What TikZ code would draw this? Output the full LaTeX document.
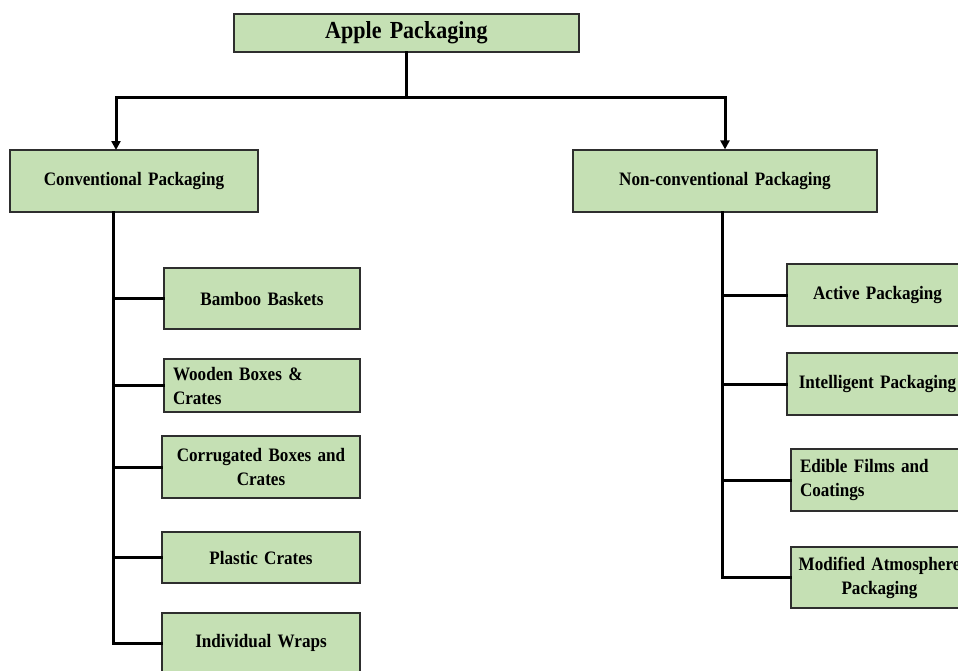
\documentclass[tikz,border=0pt]{standalone}
\usepackage{fontspec}
\setmainfont{Liberation Serif}[FakeStretch=0.9]
\usetikzlibrary{arrows.meta}
\definecolor{boxgreen}{HTML}{C5E0B4}
\definecolor{boxline}{HTML}{2E2E2E}
\tikzset{
  box/.style={draw=boxline, line width=1.2pt, fill=boxgreen, inner xsep=0pt, inner ysep=0pt,
    font=\bfseries\fontsize{19}{24}\selectfont, align=center},
  lbox/.style={box, inner xsep=9pt, align=left},
  conn/.style={line width=3pt, line cap=rect},
  arr/.style={line width=3pt, -{Triangle[length=9pt,width=9pt]}}
}
\begin{document}
\begin{tikzpicture}[x=1pt,y=-1pt]
\useasboundingbox (0,0) rectangle (958,670);

% root and the two families
\node[box, font=\bfseries\fontsize{24.5}{28}\selectfont, minimum width=345, minimum height=38, text width=345]
  (apple) at (406.5,33) {Apple Packaging};
\node[box, minimum width=248, minimum height=62, text width=248]
  (conv) at (134,181) {Conventional Packaging};
\node[box, minimum width=304, minimum height=62, text width=304]
  (nonconv) at (725,181) {Non-conventional Packaging};

% conventional types
\node[box, minimum width=196, minimum height=61, text width=196] (bamboo) at (262,298.5) {Bamboo Baskets};
\node[lbox, minimum width=196, minimum height=53, text width=178] (wooden) at (262,385.5) {Wooden Boxes \&\\Crates};
\node[box, minimum width=198, minimum height=62, text width=198] (corr) at (261,467) {Corrugated Boxes and\\Crates};
\node[box, minimum width=198, minimum height=51, text width=198] (plastic) at (261,557.5) {Plastic Crates};
\node[box, minimum width=198, minimum height=60, text width=198] (wraps) at (261,643) {Individual Wraps};

% non-conventional types
\node[box, minimum width=181, minimum height=62, text width=181] (active) at (877.5,295) {Active Packaging};
\node[box, minimum width=181, minimum height=62, text width=181] (intel) at (877.5,384) {Intelligent Packaging};
\node[lbox, minimum width=177, minimum height=62, text width=159] (edible) at (879.5,480) {Edible Films and\\Coatings};
\node[box, minimum width=177, minimum height=61, text width=177] (mod) at (879.5,577.5) {Modified Atmosphere\\Packaging};

% root split
\coordinate (split) at (apple.south |- 0,97);
\coordinate (convIn) at (116,150);
\draw[conn] (apple.south) -- (split);
\draw[arr] (split) -| (convIn);
\draw[arr] (split) -| (nonconv.north);

% conventional trunk and branches
\coordinate (convTop) at (113,212);
\draw[conn] (convTop) -- (convTop |- wraps.west);
\foreach \n in {bamboo,wooden,corr,plastic,wraps}
  \draw[conn] (convTop |- \n.west) -- (\n.west);

% non-conventional trunk and branches
\coordinate (ncTop) at (722,212);
\draw[conn] (ncTop) -- (ncTop |- mod.west);
\foreach \n in {active,intel,edible,mod}
  \draw[conn] (ncTop |- \n.west) -- (\n.west);
\end{tikzpicture}
\end{document}
